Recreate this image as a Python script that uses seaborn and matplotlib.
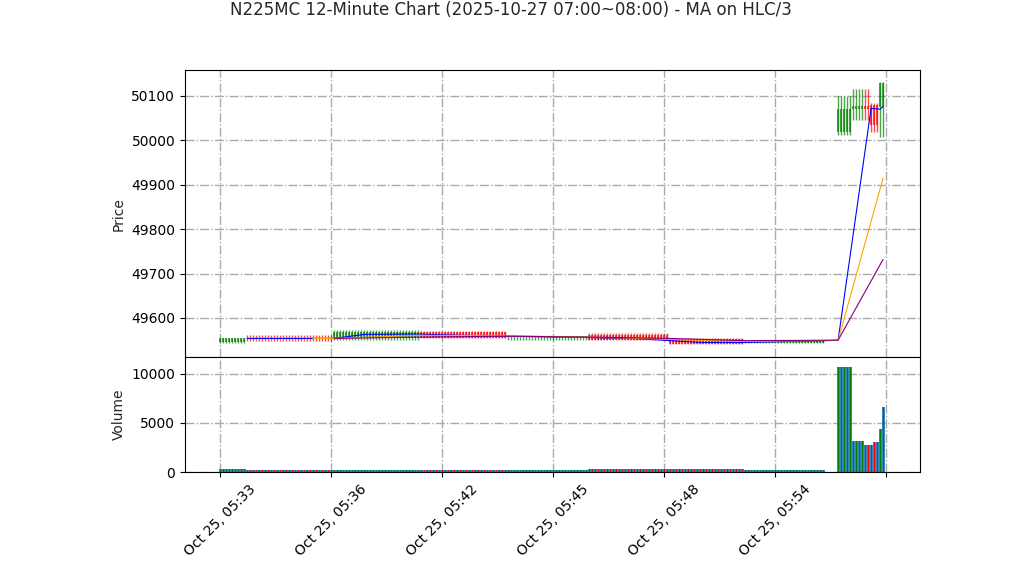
import matplotlib
matplotlib.use("Agg")
import matplotlib.pyplot as plt
import numpy as np
import pandas as pd
import seaborn as sns

# segments of identical ticks: first candle index, number of candles, OHLC, volume
seg_start = [0, 9, 38, 67, 96, 123, 150, 175, 206, 211, 215, 217, 218, 220, 221]
seg_count = [9, 29, 29, 29, 27, 27, 25, 27, 5, 4, 2, 1, 2, 1, 1]
seg_open = [49545, 49555, 49554, 49569, 49558, 49561, 49552, 49543,
            50019, 50071, 50077, 50080, 50080, 50075, 50075]
seg_high = [49556, 49561, 49573, 49570, 49560, 49566, 49554, 49550,
            50100, 50116, 50116, 50084, 50084, 50131, 50131]
seg_low = [49543, 49548, 49550, 49555, 49550, 49550, 49541, 49543,
           50011, 50046, 50046, 50019, 50019, 50008, 50008]
seg_close = [49555, 49554, 49569, 49556, 49559, 49551, 49542, 49549,
             50071, 50077, 50071, 50035, 50035, 50129, 50129]
seg_volume = [330, 200, 200, 200, 200, 330, 330, 200,
              10680, 3160, 2750, 2750, 3030, 4390, 6600]

# moving averages of HLC/3 (index, value)
ma_fast_x = [9, 38, 48, 65, 80, 96, 123, 140, 160, 175, 202, 206, 217, 220, 221]
ma_fast_y = [49554, 49554, 49563, 49564, 49561, 49559, 49556, 49553, 49545,
             49545, 49549, 49550, 50072, 50070, 50076]
ma_mid_x = [31, 38, 67, 96, 123, 150, 175, 206, 221]
ma_mid_y = [49554, 49554, 49561, 49560, 49557, 49552, 49547, 49550, 49915]
ma_slow_x = [38, 67, 96, 123, 150, 175, 206, 221]
ma_slow_y = [49554, 49557, 49559, 49557, 49554, 49549, 49550, 49732]

tick_pos = [0, 37, 74, 111, 148, 185, 222]
tick_labels = ['Oct 25, 05:33', 'Oct 25, 05:36', 'Oct 25, 05:42', 'Oct 25, 05:45',
               'Oct 25, 05:48', 'Oct 25, 05:54', '']

# expand segments into single candles
idx = np.concatenate([np.arange(s, s + n) for s, n in zip(seg_start, seg_count)])
df = pd.DataFrame({
    'x': idx,
    'open': np.repeat(seg_open, seg_count),
    'high': np.repeat(seg_high, seg_count),
    'low': np.repeat(seg_low, seg_count),
    'close': np.repeat(seg_close, seg_count),
    'volume': np.repeat(seg_volume, seg_count),
})
up = df['close'] >= df['open']
cols = np.where(up, 'green', 'red')

sns.set_theme(style='ticks', context='notebook',
              rc={'font.size': 10, 'axes.labelsize': 10, 'xtick.labelsize': 10,
                  'ytick.labelsize': 10, 'axes.edgecolor': 'black',
                  'axes.linewidth': 0.8, 'xtick.major.size': 3.5,
                  'ytick.major.size': 3.5, 'xtick.major.width': 0.8,
                  'ytick.major.width': 0.8,
                  'xtick.color': 'black', 'ytick.color': 'black'})
plt.rcParams['font.family'] = ['DejaVu Sans']

fig = plt.figure(figsize=(10.22, 5.75), dpi=100)
ax1 = fig.add_axes([0.181, 0.379, 0.7192, 0.4991])
ax2 = fig.add_axes([0.181, 0.1791, 0.7192, 0.2], sharex=ax1)

# candles
ax1.vlines(df['x'], df['low'], df['high'], colors=cols, linewidth=1, alpha=0.7)
body_lo = np.minimum(df['open'], df['close'])
body_h = np.maximum(np.abs(df['close'] - df['open']), 0.6)
ax1.bar(df['x'], body_h, bottom=body_lo, width=0.9, color=cols, alpha=0.7, linewidth=0)

sns.lineplot(x=ma_fast_x, y=ma_fast_y, ax=ax1, color='blue', linewidth=0.8)
sns.lineplot(x=ma_mid_x, y=ma_mid_y, ax=ax1, color='orange', linewidth=0.8)
sns.lineplot(x=ma_slow_x, y=ma_slow_y, ax=ax1, color='purple', linewidth=0.8)

ax1.set_ylim(49512, 50158)
ax1.set_yticks([49600, 49700, 49800, 49900, 50000, 50100])
ax1.set_ylabel('Price')
ax1.grid(True, linestyle='-.', color='#aaaaaa', linewidth=1)
ax1.tick_params(labelbottom=False)

# volume
ax2.bar(df['x'], df['volume'], width=1.0, color='#1f77b4', alpha=0.9, linewidth=0)
ax2.bar(df['x'], df['volume'], width=0.3, color=cols, linewidth=0)
ax2.set_ylim(0, 11700)
ax2.set_yticks([0, 5000, 10000])
ax2.set_ylabel('Volume')
ax2.grid(True, linestyle='-.', color='#aaaaaa', linewidth=1)

ax2.set_xlim(-11.7, 233.3)
ax2.set_xticks(tick_pos)
ax2.set_xticklabels(tick_labels, rotation=45)

fig.suptitle('N225MC 12-Minute Chart (2025-10-27 07:00~08:00) - MA on HLC/3',
             y=0.982, va='center', fontsize=12)

fig.savefig('out.png', dpi=100)
